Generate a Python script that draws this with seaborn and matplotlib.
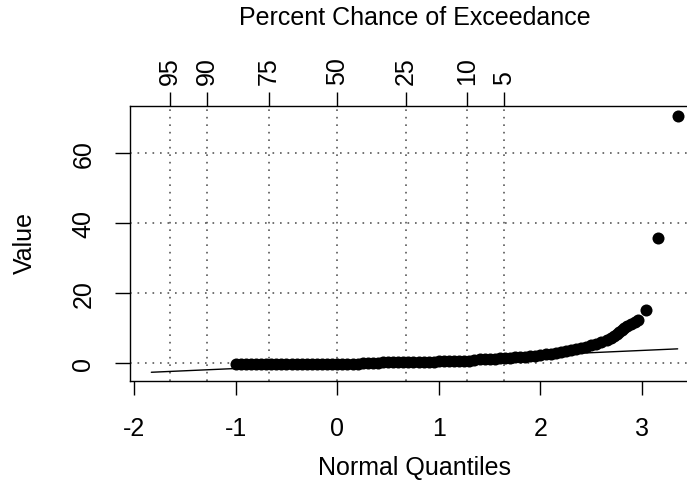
import matplotlib
matplotlib.use("Agg")
import matplotlib.pyplot as plt
import seaborn as sns
import pandas as pd
from statistics import NormalDist

# ---- data ----
normal_quantiles = [
    -1.00, -0.95, -0.90, -0.85, -0.80, -0.75, -0.70, -0.65, -0.60, -0.55,
    -0.50, -0.45, -0.40, -0.35, -0.30, -0.25, -0.20, -0.15, -0.10, -0.05,
    0.00, 0.05, 0.10, 0.15, 0.20, 0.25, 0.30, 0.35, 0.40,
    0.45, 0.50, 0.55, 0.60, 0.65, 0.70, 0.75, 0.80, 0.85, 0.90, 0.95,
    1.00, 1.05, 1.10, 1.15, 1.20, 1.25, 1.30,
    1.35, 1.40, 1.45, 1.50, 1.55, 1.60, 1.65, 1.70, 1.75, 1.80, 1.85, 1.90,
    1.95, 2.00, 2.05, 2.10, 2.15, 2.20, 2.25, 2.30, 2.35, 2.40, 2.45, 2.50,
    2.55, 2.60, 2.65, 2.69, 2.72, 2.75, 2.77, 2.80, 2.82, 2.85, 2.89, 2.93,
    2.96, 3.04, 3.16, 3.35,
]
values = [
    -0.30, -0.30, -0.30, -0.30, -0.30, -0.30, -0.30, -0.30, -0.30, -0.30,
    -0.25, -0.25, -0.25, -0.25, -0.25, -0.25, -0.25, -0.20, -0.20, -0.20,
    -0.20, -0.20, -0.20, -0.20, -0.20, -0.15, -0.15, -0.15, -0.15,
    0.10, 0.10, 0.10, 0.10, 0.15, 0.15, 0.15, 0.15, 0.20, 0.20, 0.20,
    0.50, 0.50, 0.50, 0.55, 0.55, 0.55, 0.60,
    0.90, 1.00, 1.05, 1.10, 1.20, 1.30, 1.35, 1.45, 1.60, 1.70, 1.80, 1.95,
    2.05, 2.20, 2.40, 2.60, 2.85, 3.10, 3.40, 3.70, 4.00, 4.30, 4.60, 5.00,
    5.40, 5.90, 6.50, 7.20, 7.80, 8.30, 8.80, 9.40, 10.00, 10.50, 11.20, 11.80,
    12.40, 15.00, 35.70, 70.60,
]
fit_quantiles = [-1.83, 3.35]
fit_values = [-2.7, 4.0]

exceedance_pct = [95, 90, 75, 50, 25, 10, 5]
y_ticks = [0, 20, 40, 60]
x_ticks = [-2, -1, 0, 1, 2, 3]

pts = pd.DataFrame({"q": normal_quantiles, "v": values})
fit = pd.DataFrame({"q": fit_quantiles, "v": fit_values})

sns.set_theme(style="white")
plt.rcParams["font.family"] = ["Liberation Sans", "DejaVu Sans"]
plt.rcParams["text.color"] = "black"
plt.rcParams["axes.labelcolor"] = "black"
plt.rcParams["xtick.color"] = "black"
plt.rcParams["ytick.color"] = "black"

W, H = 687, 481
fig = plt.figure(figsize=(W / 100, H / 100), dpi=100)
left, right, top, bottom = 130, 699, 107, 382
ax = fig.add_axes([left / W, 1 - bottom / H, (right - left) / W, (bottom - top) / H])

ax.set_xlim(-2.04, 3.56)
ax.set_ylim(-5.2, 73.5)

pct_pos = [NormalDist().inv_cdf(1 - p / 100) for p in exceedance_pct]

grid_kw = dict(color="0.35", linestyle=(0, (1, 3.5)), linewidth=1.2, zorder=0)
for zq in pct_pos:
    ax.axvline(zq, **grid_kw)
for yv in y_ticks:
    ax.axhline(yv, **grid_kw)

sns.lineplot(data=fit, x="q", y="v", ax=ax, color="black", linewidth=1.0, zorder=2)
sns.scatterplot(data=pts, x="q", y="v", ax=ax, color="black", s=75,
                edgecolor="black", linewidth=0, zorder=3)

for sp in ax.spines.values():
    sp.set_color("black")
    sp.set_linewidth(1.0)

ax.set_xticks(x_ticks)
ax.set_xticklabels([str(t) for t in x_ticks])
ax.set_yticks(y_ticks)
ax.set_yticklabels([str(t) for t in y_ticks], rotation=90, va="center")
ax.tick_params(axis="x", direction="out", length=10, width=1, color="black",
               labelcolor="black", labelsize=18, pad=15, bottom=True)
ax.tick_params(axis="y", direction="out", length=11, width=1, color="black",
               labelcolor="black", labelsize=18, pad=14, left=True)
ax.set_xlabel("")
ax.set_ylabel("")

ax2 = ax.twiny()
ax2.set_xlim(ax.get_xlim())
ax2.set_xticks(pct_pos)
ax2.set_xticklabels([str(p) for p in exceedance_pct], rotation=90)
ax2.tick_params(axis="x", direction="out", length=10, width=1, color="black",
                labelcolor="black", labelsize=18, pad=6, top=True)
for sp in ax2.spines.values():
    sp.set_visible(False)

fig.text(414.5 / W, 1 - 18 / H, "Percent Chance of Exceedance", ha="center", va="center",
         fontsize=18, color="black")
fig.text(414.5 / W, 1 - 468 / H, "Normal Quantiles", ha="center", va="center",
         fontsize=18, color="black")
fig.text(25 / W, 1 - 243 / H, "Value", ha="center", va="center", rotation=90,
         fontsize=18, color="black")

fig.savefig("out.png", dpi=100)
